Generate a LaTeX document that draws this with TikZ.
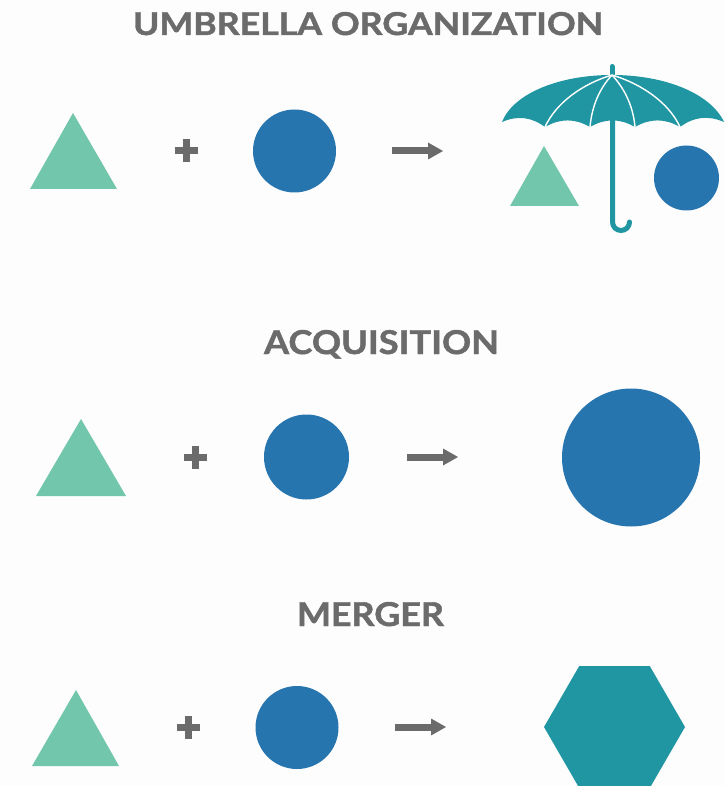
\documentclass[tikz,border=0pt]{standalone}
\usepackage{fontspec}
\setmainfont{Lato}[BoldFeatures={FakeBold=1.3}]
\usepackage{graphicx}
\definecolor{mint}{HTML}{72C6AB}
\definecolor{blu}{HTML}{2775AE}
\definecolor{tealc}{HTML}{2196A3}
\definecolor{txt}{HTML}{6B6B6B}
\definecolor{bgc}{HTML}{FDFDFD}
\tikzset{
  ttl/.style={inner sep=0pt, outer sep=0pt, text=txt, font=\bfseries, anchor=base},
  trishape/.style={fill=mint},
  circshape/.style={fill=blu},
  tealshape/.style={fill=tealc},
  rib/.style={draw=white, line width=1.4pt},
  plussign/.pic={
    \fill[txt] (-11.5,-3.5) rectangle (11.5,3.5);
    \fill[txt] (-3.5,-11.5) rectangle (3.5,11.5);
  },
  arrowsign/.pic={
    \fill[txt] (0,-3.5) rectangle (37,3.5);
    \fill[txt] (36,-8.5) -- (51,0) -- (36,8.5) -- cycle;
  }
}
\begin{document}
\begin{tikzpicture}[x=1pt,y=-1pt]
\useasboundingbox (0,0) rectangle (725,786);
\fill[bgc] (0,0) rectangle (725,786);

% ---------- titles ----------
\node[ttl] (t1) at (368,35) {\resizebox{470pt}{23pt}{UMBRELLA ORGANIZATION}};
\node[ttl] (t2) at (381.5,354) {\resizebox{235pt}{24pt}{ACQUISITION}};
\node[ttl] (t3) at (370.5,626) {\resizebox{147pt}{24pt}{MERGER}};

% ---------- row 1 ----------
\fill[trishape] (73,113) -- (117,189) -- (30,189) -- cycle;
\pic at (186,151) {plussign};
\fill[circshape] (294.5,151) circle[radius=41.5];
\coordinate (a1) at (392,151);
\pic at (a1) {arrowsign};

% umbrella
\draw[tealc, line width=5pt, line cap=round] (612,76) -- (612,66.5);
\draw[tealc, line width=5pt, line cap=round]
  (612.5,120) -- (612.5,222) arc[start angle=180, end angle=0, radius=8.5];
\fill[tealshape] (612,75) .. controls (558,75) and (513,94) .. (502,122)
  to[bend left=30] (545,127) to[bend left=30] (590,127)
  to[bend left=30] (635,127) to[bend left=30] (680,127)
  to[bend left=30] (724,122)
  .. controls (711,94) and (666,75) .. (612,75) -- cycle;
\draw[rib] (612,75) .. controls (582,84) and (556,103) .. (545,127);
\draw[rib] (612,75) .. controls (600,88) and (592,105) .. (590,127);
\draw[rib] (612,75) .. controls (624,88) and (633,105) .. (635,127);
\draw[rib] (612,75) .. controls (642,84) and (669,103) .. (680,127);
\fill[trishape] (544,146) -- (579,206) -- (510,206) -- cycle;
\fill[circshape] (686.5,178) circle[radius=32.5];

% ---------- row 2 ----------
\fill[trishape] (81,419) -- (126,496) -- (36,496) -- cycle;
\pic at (195,457) {plussign};
\fill[circshape] (306.5,457) circle[radius=42.5];
\coordinate (a2) at (407,457);
\pic at (a2) {arrowsign};
\fill[circshape] (631,457.5) circle[radius=69];

% ---------- row 3 ----------
\fill[trishape] (76,690) -- (119,766) -- (32,766) -- cycle;
\pic at (188,727) {plussign};
\fill[circshape] (297,727.5) circle[radius=41.5];
\coordinate (a3) at (395,727);
\pic at (a3) {arrowsign};
\fill[tealshape] (685,727) -- (649.75,666) -- (579.25,666) -- (544,727)
  -- (579.25,788) -- (649.75,788) -- cycle;
\end{tikzpicture}
\end{document}
